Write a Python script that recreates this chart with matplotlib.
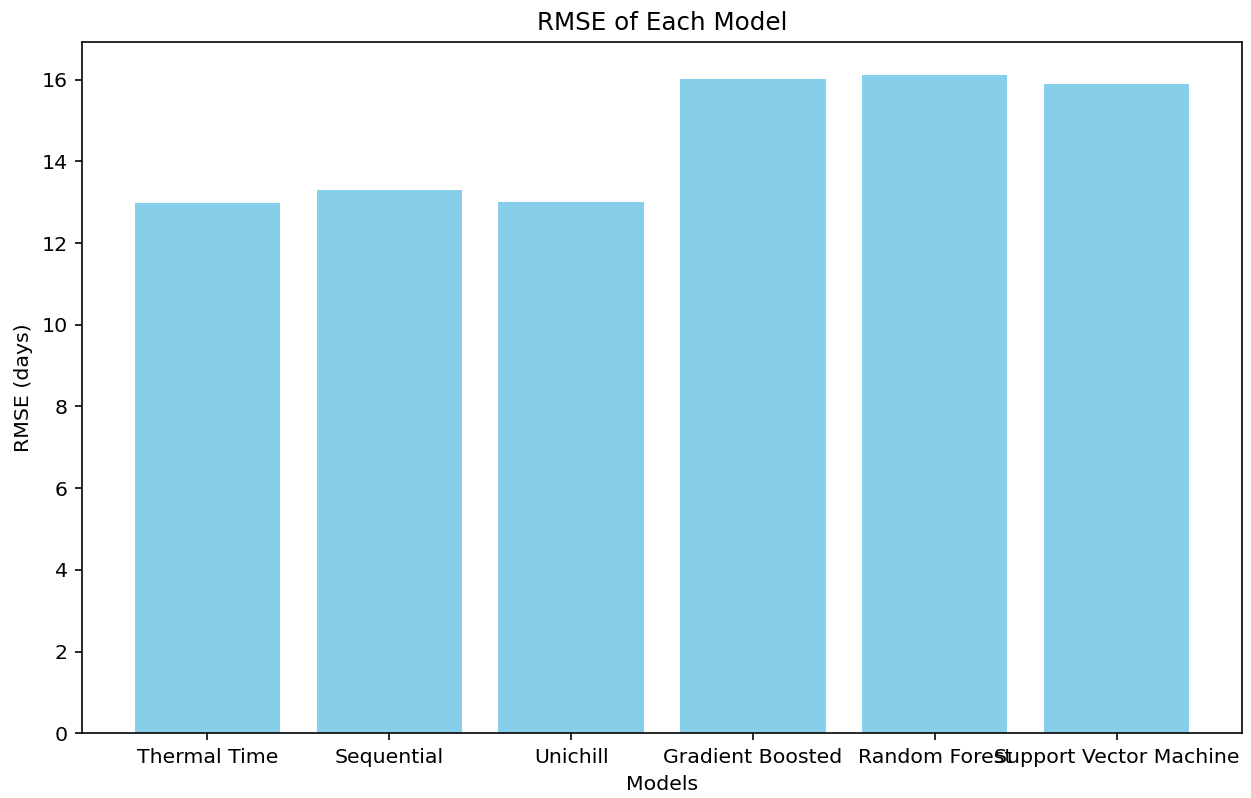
import matplotlib
matplotlib.use("Agg")
import matplotlib.pyplot as plt

models = ["Thermal Time", "Sequential", "Unichill", "Gradient Boosted",
          "Random Forest", "Support Vector Machine"]
rmse = [12.97, 13.30, 13.01, 16.01, 16.11, 15.90]

DPI = 147.5
fig = plt.figure(figsize=(1251/DPI, 798/DPI), dpi=DPI)
ax = fig.add_axes([82/1251, (798-733.3)/798, 1160/1251, 691/798])
ax.bar(models, rmse, color="skyblue")
ax.set_title("RMSE of Each Model")
ax.set_xlabel("Models")
ax.set_ylabel("RMSE (days)")
fig.savefig("out.png", dpi=DPI)
